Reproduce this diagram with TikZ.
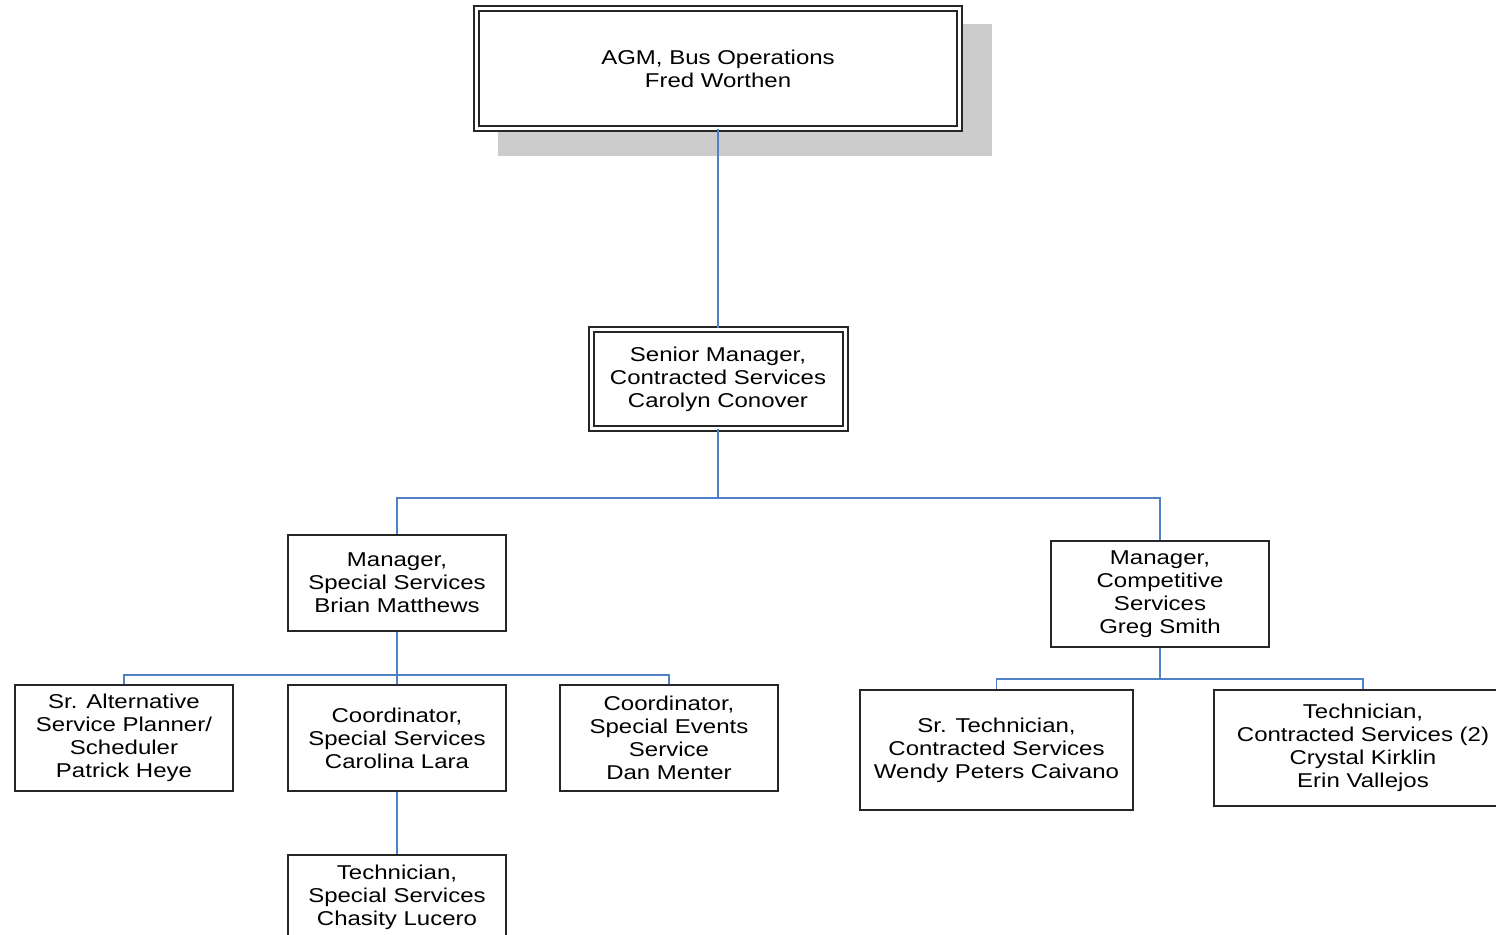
\documentclass[tikz,border=0pt]{standalone}
\usepackage{fontspec}
\setmainfont{Liberation Sans}[FakeStretch=1.2]
\usetikzlibrary{backgrounds}
\definecolor{linkblue}{RGB}{79,129,199}

\begin{document}
\begin{tikzpicture}[x=0.5pt, y=-0.5pt,
	box/.style={draw=black!85, line width=0.9pt, fill=white, align=center, inner sep=0pt, font=\fontsize{10}{11.5}\selectfont},
	dbox/.style={box, double, double distance=1.5pt, line width=1pt},
	link/.style={draw=linkblue, line width=0.8pt}]
	\useasboundingbox (0,0) rectangle (1496,935);
	\clip (0,0) rectangle (1496,935);
	\node[dbox, minimum width=241.5pt, minimum height=60pt] (agm) at (718,68.5) {AGM, Bus Operations\\Fred Worthen};
	\begin{scope}[on background layer]
		\fill[black!20] ([shift={(22.5,16.5)}]agm.north west) rectangle ([shift={(31.5,26.5)}]agm.south east);
	\end{scope}
	\node[dbox, minimum width=127pt, minimum height=49.5pt] (senior) at (718,379) {Senior Manager,\\Contracted Services\\Carolyn Conover};
	\node[box, minimum width=109pt, minimum height=48pt] (mgrss) at (397,583) {Manager,\\Special Services\\Brian Matthews};
	\node[box, minimum width=109pt, minimum height=53pt] (mgrcs) at (1160,594) {Manager,\\Competitive\\Services\\Greg Smith};
	\node[box, minimum width=109pt, minimum height=53pt] (sralt) at (124,738) {Sr. Alternative\\Service Planner/\\Scheduler\\Patrick Heye};
	\node[box, minimum width=109pt, minimum height=53pt] (coordss) at (397,738) {Coordinator,\\Special Services\\Carolina Lara};
	\node[box, minimum width=109pt, minimum height=53pt] (coordse) at (669,738) {Coordinator,\\Special Events\\Service\\Dan Menter};
	\node[box, minimum width=109pt, minimum height=42pt] (techss) at (397,897) {Technician,\\Special Services\\Chasity Lucero};
	\node[box, minimum width=136.5pt, minimum height=60pt] (srtech) at (996.5,750) {Sr. Technician,\\Contracted Services\\Wendy Peters Caivano};
	\node[box, minimum width=149pt, minimum height=58pt] (techcs) at (1363,748) {Technician,\\Contracted Services (2)\\Crystal Kirklin\\Erin Vallejos};
	\coordinate (j1) at (718,498);
	\coordinate (j2) at (397,675);
	\coordinate (j3) at (1160,679);
	\draw[link] (agm.south) -- (senior.north);
	\draw[link] (senior.south) -- (j1) -| (mgrss.north);
	\draw[link] (j1) -| (mgrcs.north);
	\draw[link] (mgrss.south) -- (j2) -| (sralt.north);
	\draw[link] (j2) -- (coordss.north);
	\draw[link] (j2) -| (coordse.north);
	\draw[link] (coordss.south) -- (techss.north);
	\draw[link] (mgrcs.south) -- (j3) -| (srtech.north);
	\draw[link] (j3) -| (techcs.north);
\end{tikzpicture}
\end{document}
